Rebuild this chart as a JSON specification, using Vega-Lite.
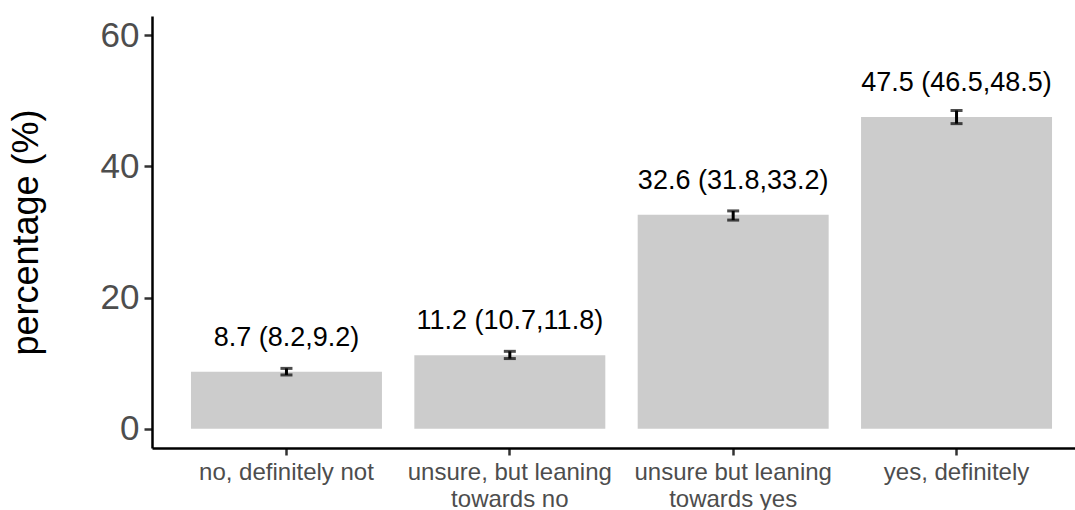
{
  "$schema": "https://vega.github.io/schema/vega-lite/v6.json",
  "autosize": "none",
  "width": 923,
  "height": 432,
  "padding": {"left": 152, "top": 16, "right": 0, "bottom": 62},
  "background": "white",
  "config": {
    "view": {"stroke": null},
    "font": "Liberation Sans",
    "axis": {"grid": false}
  },
  "data": {
    "values": [
      {"answer": "no, definitely not", "pct": 8.7, "lower": 8.2, "upper": 9.2, "label": "8.7 (8.2,9.2)"},
      {"answer": "unsure, but leaning towards no", "pct": 11.2, "lower": 10.7, "upper": 11.8, "label": "11.2 (10.7,11.8)"},
      {"answer": "unsure but leaning towards yes", "pct": 32.6, "lower": 31.8, "upper": 33.2, "label": "32.6 (31.8,33.2)"},
      {"answer": "yes, definitely", "pct": 47.5, "lower": 46.5, "upper": 48.5, "label": "47.5 (46.5,48.5)"}
    ]
  },
  "encoding": {
    "x": {
      "field": "answer",
      "type": "nominal",
      "sort": null,
      "scale": {"range": [0, 939], "paddingInner": 0.145, "paddingOuter": 0.1745},
      "axis": {
        "title": null,
        "labelAngle": 0,
        "labelFontSize": 24,
        "labelColor": "#4D4D4D",
        "labelPadding": 5,
        "labelLimit": 0,
        "labelLineHeight": 27,
        "labelExpr": "indexof(datum.label, ' towards') > 0 ? [slice(datum.label, 0, indexof(datum.label, ' towards')), slice(datum.label, indexof(datum.label, ' towards') + 1)] : datum.label",
        "domainColor": "black",
        "domainWidth": 2.5,
        "tickColor": "#333333",
        "tickWidth": 2.5,
        "tickSize": 7
      }
    }
  },
  "layer": [
    {
      "mark": {"type": "bar", "color": "#CCCCCC"},
      "encoding": {
        "y": {
          "field": "pct",
          "type": "quantitative",
          "scale": {"domain": [-2.93, 62.9], "nice": false, "zero": false},
          "axis": {
            "title": "percentage (%)",
            "titleFontSize": 36,
            "titleFontWeight": "normal",
            "titleColor": "black",
            "titlePadding": 55,
            "values": [0, 20, 40, 60],
            "labelFontSize": 35,
            "labelColor": "#4D4D4D",
            "labelPadding": 5,
            "domainColor": "black",
            "domainWidth": 2.5,
            "tickColor": "#333333",
            "tickWidth": 2.5,
            "tickSize": 8
          }
        },
        "y2": {"datum": 0}
      }
    },
    {
      "mark": {"type": "rule", "color": "black", "strokeWidth": 3},
      "encoding": {
        "y": {"field": "lower", "type": "quantitative"},
        "y2": {"field": "upper"}
      }
    },
    {
      "mark": {"type": "tick", "color": "black", "size": 12, "thickness": 3},
      "encoding": {
        "y": {"field": "lower", "type": "quantitative"}
      }
    },
    {
      "mark": {"type": "tick", "color": "black", "size": 12, "thickness": 3},
      "encoding": {
        "y": {"field": "upper", "type": "quantitative"}
      }
    },
    {
      "mark": {"type": "text", "fontSize": 27, "color": "black", "baseline": "alphabetic", "dy": -26},
      "encoding": {
        "y": {"field": "pct", "type": "quantitative"},
        "text": {"field": "label"}
      }
    }
  ]
}
